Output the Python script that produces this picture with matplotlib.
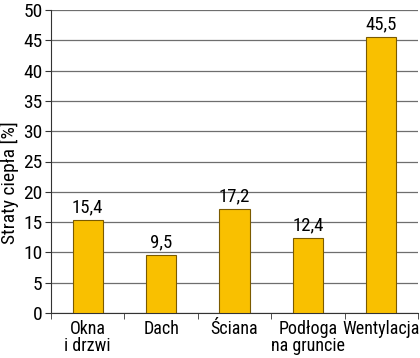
import matplotlib
matplotlib.use("Agg")
import matplotlib.pyplot as plt
from matplotlib import font_manager

fl = font_manager.fontManager.ttflist
names = {f.name for f in fl}
fam = None
stretch = 'normal'
for cand in ['Liberation Sans Narrow', 'Roboto Condensed', 'Open Sans Condensed', 'Noto Sans Condensed']:
    if cand in names:
        fam = cand
        break
if fam is None:
    narrow = [f.name for f in fl if 'Narrow' in f.name or 'Condensed' in f.name]
    if narrow:
        fam = narrow[0]
if fam is None:
    cond = [f for f in fl if f.stretch in ('condensed', 'semi-condensed', 600, 500) or 'Condensed' in f.fname]
    if cond:
        fam = cond[0].name
        stretch = 'condensed'
if fam is None:
    fam = 'Liberation Sans'
plt.rcParams['font.family'] = [fam, 'DejaVu Sans']
plt.rcParams['font.stretch'] = stretch

categories = ["Okna\ni drzwi", "Dach", "Ściana", "Podłoga\nna gruncie", "Wentylacja"]
values = [15.4, 9.5, 17.2, 12.4, 45.5]
value_labels = ["15,4", "9,5", "17,2", "12,4", "45,5"]
yticks = [0, 5, 10, 15, 20, 25, 30, 35, 40, 45, 50]

fig = plt.figure(figsize=(4.2, 3.58), dpi=100)
ax = fig.add_axes([51/420, 1 - 313/358, (418-51)/420, (313-10)/358])

x = list(range(len(categories)))
ax.bar(x, values, width=0.41, color='#F9C000', edgecolor='#7a5a00', linewidth=0.8, zorder=3)
for xi, v, lab in zip(x, values, value_labels):
    ax.text(xi, v + 0.6, lab, ha='center', va='bottom', fontsize=13.5, zorder=4)

ax.set_xlim(-0.5, len(categories) - 0.5)
ax.set_ylim(0, 50)
ax.set_yticks(yticks)
ax.set_yticklabels([str(t) for t in yticks], fontsize=14)
ax.yaxis.grid(True, color='#6e6e6e', linewidth=0.9, zorder=0)
ax.set_axisbelow(True)

ax.set_xticks(x)
ax.set_xticklabels(categories, fontsize=13, linespacing=0.95)
ax.tick_params(axis='x', length=0, pad=5)
ax.set_xticks([i + 0.5 for i in range(-1, len(categories))], minor=True)
ax.tick_params(axis='x', which='minor', length=4, color='#333333')
ax.tick_params(axis='y', length=4, pad=2, color='#333333')

ax.set_ylabel("Straty ciepła [%]", fontsize=14)
ax.yaxis.set_label_coords(-0.087, 0.43)

for s in ['top', 'right']:
    ax.spines[s].set_visible(False)
ax.spines['left'].set_color('#333333')
ax.spines['bottom'].set_color('#333333')

fig.savefig("out.png", dpi=100)
